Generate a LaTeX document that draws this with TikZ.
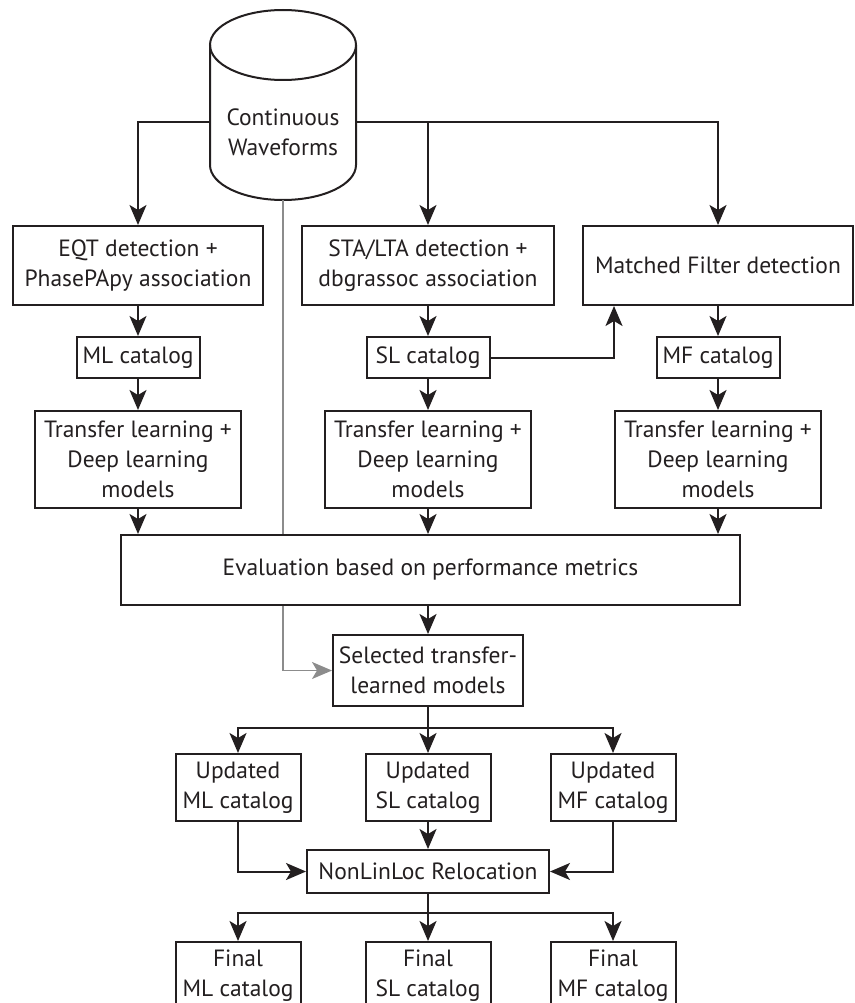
\documentclass[tikz,border=0pt]{standalone}
\usepackage{fontspec}
\setmainfont{PT Sans}
\usetikzlibrary{arrows.meta,positioning}
\definecolor{inkgray}{HTML}{231F20}

\begin{document}
\begin{tikzpicture}[
  x=1pt, y=-1pt,
  >={Stealth[length=20pt,width=17pt,inset=5pt]},
  process/.style={draw=inkgray, text=inkgray, line width=2pt, align=center, fill=white, inner sep=0pt, font=\fontsize{23.5}{30}\selectfont},
  catbox/.style={process, minimum width=123pt, minimum height=41pt},
  learnbox/.style={process, minimum width=206pt, minimum height=97pt},
  updbox/.style={process, minimum width=125pt, minimum height=67pt},
  arrow/.style={->, draw=inkgray, line width=2pt},
  feedback/.style={line width=1.5pt, draw=gray!90}
]
\useasboundingbox (0,0) rectangle (854,1003);
\clip (0,0) rectangle (854,1003);

% data source
\draw[inkgray, line width=2pt] (283,45) ellipse [x radius=73, y radius=35];
\draw[inkgray, line width=2pt] (210,45) -- (210,165) arc[start angle=180, end angle=0, x radius=73, y radius=35] -- (356,45);
\node[align=center, text=inkgray, font=\fontsize{23.5}{30}\selectfont] (wave) at (283,132) {Continuous\\Waveforms};
\coordinate (tapL) at (210,122);
\coordinate (tapR) at (356,122);
\coordinate (waveBase) at (283,200);

% detection and association
\node[process, minimum width=250pt, minimum height=79pt] (eqt) at (138,265.5) {EQT detection +\\PhasePApy association};
\node[process, minimum width=252pt, minimum height=79pt] (sta) at (428,265.5) {STA/LTA detection +\\dbgrassoc association};
\node[process, minimum width=270pt, minimum height=79pt] (mfd) at (718,265.5) {Matched Filter detection};

\node[catbox, below=30pt of eqt] (mlCat) {ML catalog};
\node[catbox, below=30pt of sta] (slCat) {SL catalog};
\node[catbox, below=30pt of mfd] (mfCat) {MF catalog};

\node[learnbox, below=31pt of mlCat] (mlLearn) {Transfer learning +\\Deep learning\\models};
\node[learnbox, below=31pt of slCat] (slLearn) {Transfer learning +\\Deep learning\\models};
\node[learnbox, below=31pt of mfCat] (mfLearn) {Transfer learning +\\Deep learning\\models};

\node[process, minimum width=619pt, minimum height=70pt] (eval) at (430.5,570) {Evaluation based on performance metrics};
\node[process, minimum width=190pt, minimum height=71pt] (sel) at (428,670.5) {Selected transfer-\\learned models};

% updated and final catalogs
\node[updbox] (updML) at (238,787.5) {Updated\\ML catalog};
\node[updbox] (updSL) at (428,787.5) {Updated\\SL catalog};
\node[updbox] (updMF) at (613,787.5) {Updated\\MF catalog};

\node[process, minimum width=242pt, minimum height=43pt, below=27pt of updSL] (nll) {NonLinLoc Relocation};

\node[updbox, below=47pt of nll] (finSL) {Final\\SL catalog};
\node[updbox] (finML) at (finSL -| updML) {Final\\ML catalog};
\node[updbox] (finMF) at (finSL -| updMF) {Final\\MF catalog};

\draw[arrow] (tapL) -| (eqt);
\draw[arrow] (tapR) -| (mfd);
\draw[arrow] (tapR -| sta) -- (sta);

\draw[arrow] (eqt) -- (mlCat);
\draw[arrow] (sta) -- (slCat);
\draw[arrow] (mfd) -- (mfCat);
\draw[arrow] (slCat.east) -| ([xshift=32pt]mfd.south west);

\draw[arrow] (mlCat) -- (mlLearn);
\draw[arrow] (slCat) -- (slLearn);
\draw[arrow] (mfCat) -- (mfLearn);

\draw[arrow] (mlLearn) -- (mlLearn |- eval.north);
\draw[arrow] (slLearn) -- (slLearn |- eval.north);
\draw[arrow] (mfLearn) -- (mfLearn |- eval.north);
\draw[arrow] (eval.south -| sel) -- (sel);

% raw waveforms passed on to model selection
\draw[feedback] (waveBase) -- (waveBase |- eval.north);
\draw[feedback, ->] (waveBase |- eval.south) |- (sel.west);

\draw[arrow] (sel) -- (updSL);
\draw[arrow] (sel.south) -- ++(0,21) -| (updML);
\draw[arrow] (sel.south) -- ++(0,21) -| (updMF);

\draw[arrow] (updML) |- (nll);
\draw[arrow] (updSL) -- (nll);
\draw[arrow] (updMF) |- (nll);

\draw[arrow] (nll) -- (finSL);
\draw[arrow] (nll.south) -- ++(0,19) -| (finML);
\draw[arrow] (nll.south) -- ++(0,19) -| (finMF);

\end{tikzpicture}
\end{document}
